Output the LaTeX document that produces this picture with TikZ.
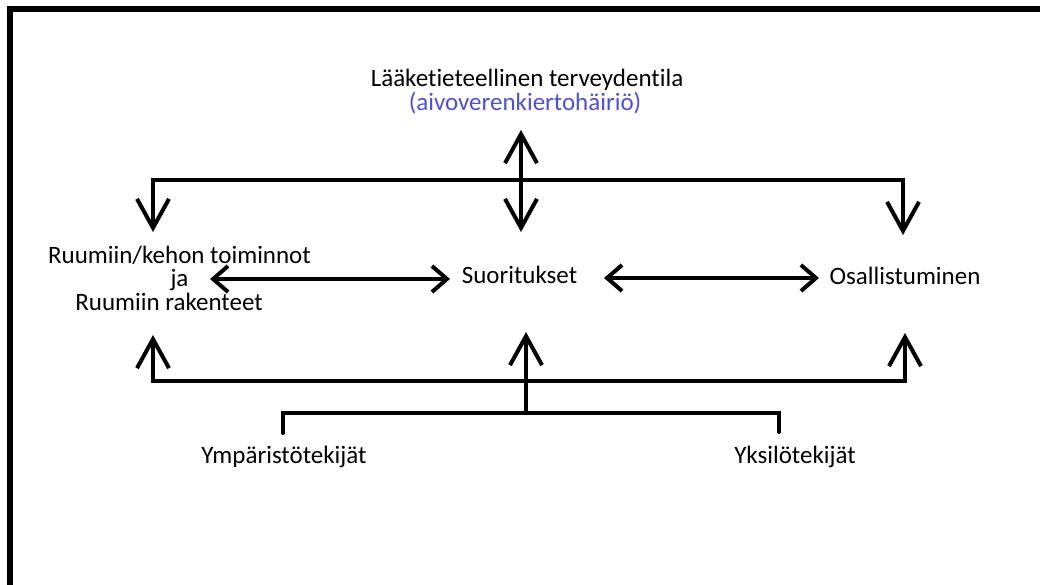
\documentclass[tikz,border=0pt]{standalone}
\usepackage{fontspec}
\setmainfont[Ligatures=NoCommon]{Carlito}
\usetikzlibrary{arrows.meta}
\definecolor{bluetxt}{RGB}{80,80,210}
\tikzset{
  lbl/.style={font=\fontsize{25}{23.5}\selectfont, inner sep=0pt, anchor=base, text=black},
  ln/.style={line width=4pt, line cap=round, line join=miter},
  vtip/.tip={Straight Barb[length=29pt,width=32pt,line width=4pt]},
  htip/.tip={Straight Barb[length=15pt,width=26pt,line width=4pt]},
}
\begin{document}
\begin{tikzpicture}[x=1pt,y=-1pt]
\useasboundingbox (0,0) rectangle (1040,585);
\fill[white] (0,0) rectangle (1040,585);
% frame
\draw[line width=6pt] (10,600) -- (10,9) -- (1060,9);

% labels
\node[lbl] (title) at (527,87) {Lääketieteellinen terveydentila};
\node[lbl, text=bluetxt] (cause) at (525,111) {(aivoverenkiertohäiriö)};
\node[lbl, align=center] (body) at (179.5,310) {Ruumiin/kehon toiminnot\\ja\hspace*{44pt}\\Ruumiin rakenteet\hspace*{21pt}};
\node[lbl] (act) at (519.5,283) {Suoritukset};
\node[lbl] (part) at (905,284) {Osallistuminen};
\node[lbl] (env) at (284,463) {Ympäristötekijät};
\node[lbl] (pers) at (795,463) {Yksilötekijät};

% coordinates
\coordinate (ct) at (521,130);
\coordinate (cb) at (521,232);
\coordinate (tl) at (153,232);
\coordinate (tr) at (903,235);
\coordinate (bl) at (153,335);
\coordinate (br) at (905,333);
\coordinate (bc) at (526,332);
\coordinate (bj) at (526,413);
\coordinate (el) at (283,433);
\coordinate (pr) at (779,432);
\coordinate (h1a) at (210,279);
\coordinate (h1b) at (450,279);
\coordinate (h2a) at (604,278);
\coordinate (h2b) at (819,278);

% connectors
\draw[ln, vtip-vtip] (ct) -- (cb);
\draw[ln, vtip-vtip] (tl) -- (153,180) -- (903,180) -- (tr);
\draw[ln, vtip-vtip] (bl) -- (153,381) -- (905,381) -- (br);
\draw[ln, -vtip] (bj) -- (bc);
\draw[ln] (el) -- (283,413) -- (779,413) -- (pr);
\draw[ln, htip-htip] (h1a) -- (h1b);
\draw[ln, htip-htip] (h2a) -- (h2b);
\end{tikzpicture}
\end{document}
